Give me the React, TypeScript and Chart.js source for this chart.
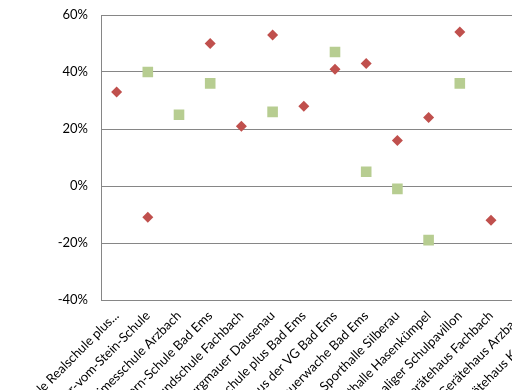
import React, { useEffect, useRef } from "react";
import { Chart, registerables } from "chart.js";

Chart.register(...registerables);

const categories: string[] = [
  "Grundschule Realschule plus...",
  "Freiherr-vom-Stein-Schule",
  "Limesschule Arzbach",
  "Goethe-Stern-Schule Bad Ems",
  "Grundschule Fachbach",
  "Sporthalle Burgmauer Dausenau",
  "Realschule plus Bad Ems",
  "Rathaus der VG Bad Ems",
  "Feuerwache Bad Ems",
  "Sporthalle Silberau",
  "Sporthalle Hasenkümpel",
  "Ehemaliger Schulpavillon",
  "Gerätehaus Fachbach",
  "Gerätehaus Arzbach",
  "Gerätehaus Kemmenau",
];

const seriesRed: (number | null)[] = [33, -11, null, 50, 21, 53, 28, 41, 43, 16, 24, 54, -12, null, null];
const seriesGreen: (number | null)[] = [null, 40, 25, 36, null, 26, null, 47, 5, -1, -19, 36, null, null, null];

const yMin = -40;
const yMax = 60;
const yStep = 20;

const FONT = "Lato, 'Open Sans', sans-serif";
const GRID = "#868686";

export default function App() {
  const ref = useRef<HTMLCanvasElement | null>(null);

  useEffect(() => {
    if (!ref.current) return;
    const chart = new Chart(ref.current, {
      type: "line",
      data: {
        labels: categories,
        datasets: [
          {
            label: "A",
            data: seriesRed,
            showLine: false,
            pointStyle: "rectRot",
            pointRadius: 5.5,
            pointHoverRadius: 5.5,
            backgroundColor: "#C0504D",
            borderColor: "#C0504D",
            pointBorderWidth: 0,
          },
          {
            label: "B",
            data: seriesGreen,
            showLine: false,
            pointStyle: "rect",
            pointRadius: 7.5,
            pointHoverRadius: 7.5,
            backgroundColor: "#B7CD91",
            borderColor: "#B7CD91",
            pointBorderWidth: 0,
          },
        ],
      },
      options: {
        responsive: false,
        animation: false,
        events: [],
        layout: { padding: { left: 0, top: 15, right: 11, bottom: 0 } },
        plugins: {
          legend: { display: false },
          tooltip: { enabled: false },
          title: { display: false },
        },
        scales: {
          x: {
            offset: true,
            grid: { display: false, drawTicks: false },
            border: { display: true, color: GRID, width: 1 },
            ticks: {
              autoSkip: false,
              minRotation: 45,
              maxRotation: 45,
              padding: 8,
              color: "#000",
              font: { family: FONT, size: 13 },
            },
            afterFit: (scale: any) => {
              scale.height = 120;
              scale.paddingLeft = 0;
              scale.paddingRight = 0;
              scale.paddingTop = 0;
              scale.paddingBottom = 0;
            },
          },
          y: {
            min: yMin,
            max: yMax,
            grid: { color: GRID, drawTicks: false, lineWidth: 1 },
            border: { display: true, color: GRID, width: 1 },
            ticks: {
              stepSize: yStep,
              padding: 13,
              color: "#000",
              font: { family: FONT, size: 13 },
              callback: (v: any) => `${v}%`,
            },
            afterFit: (scale: any) => {
              scale.width = 101;
              scale.paddingTop = 0;
              scale.paddingBottom = 0;
              scale.paddingLeft = 0;
              scale.paddingRight = 0;
            },
          },
        },
      },
    });
    return () => chart.destroy();
  }, []);

  return (
    <div
      style={{
        position: "fixed",
        left: 0,
        top: 0,
        width: 512,
        height: 390,
        overflow: "hidden",
        background: "#fff",
      }}
    >
      <canvas ref={ref} width={580} height={420} style={{ display: "block" }} />
    </div>
  );
}
